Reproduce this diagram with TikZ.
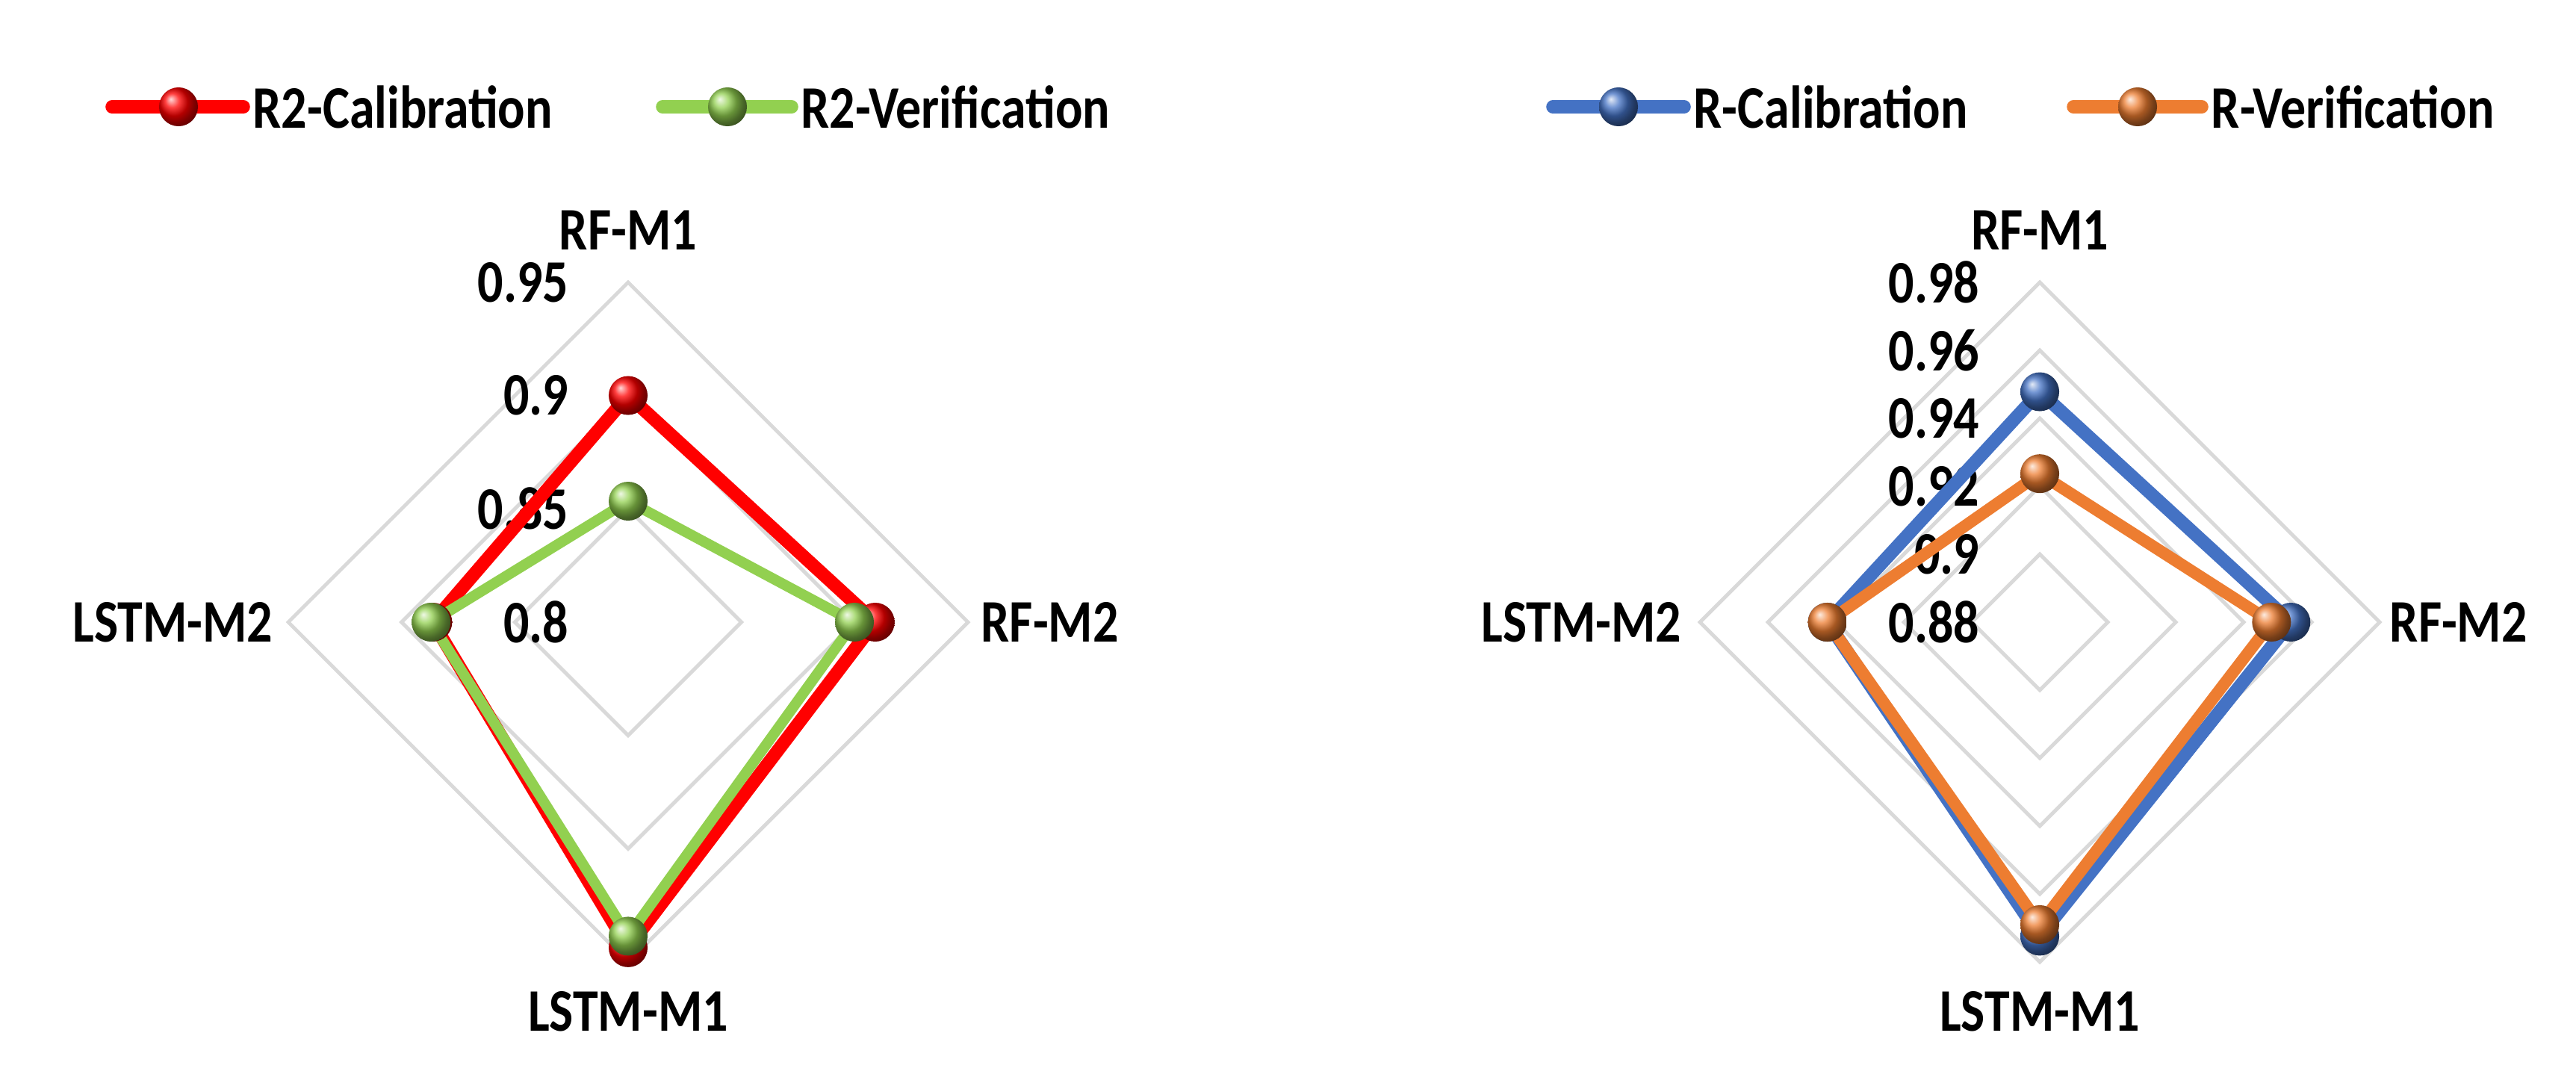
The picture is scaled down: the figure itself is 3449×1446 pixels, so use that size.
\documentclass[tikz,border=0pt]{standalone}
\usepackage{fontspec}
\setmainfont{Carlito}[FakeStretch=0.84]
\begin{document}
\definecolor{cRed}{HTML}{FF0000}
\definecolor{cGreen}{HTML}{92D050}
\definecolor{cBlue}{HTML}{4472C4}
\definecolor{cOrange}{HTML}{ED7D31}
\definecolor{cGrid}{HTML}{D9D9D9}
\begin{tikzpicture}[x=0.01cm,y=-0.01cm,
  lbl/.style={font=\bfseries\fontsize{23}{27}\selectfont,inner sep=0pt},
  leg/.style={font=\bfseries\fontsize{23}{27}\selectfont,inner sep=0pt,anchor=west},
  grid/.style={draw=cGrid,line width=1.4pt,line join=miter},
  ser/.style={line width=#1,line join=round,line cap=round},
  ball/.style={circle,minimum size=0.52cm,inner sep=0pt,shading=ball,ball color=#1}]
\useasboundingbox (0,0) rectangle (3449,1446);
\def\R{455}
% ---------- left chart ----------
\foreach \k in {1,2,3}{
  \draw[grid] (841,{833-\k*\R/3}) -- ({841+\k*\R/3},833) -- (841,{833+\k*\R/3}) -- ({841-\k*\R/3},833) -- cycle;}
\foreach \v/\k in {0.8/0,0.85/1,0.9/2,0.95/3}
  \node[lbl,anchor=east] (lt\k) at (762,{833-\k*\R/3}) {\v};
\node[lbl] (l1) at (841,308) {RF-M1};
\node[lbl,anchor=west] (l2) at (1313,833) {RF-M2};
\node[lbl] (l3) at (841,1354) {LSTM-M1};
\node[lbl,anchor=east] (l4) at (366,833) {LSTM-M2};
% red
\coordinate (ra) at (841,{833-0.667*\R});
\coordinate (rb) at ({841+0.727*\R},833);
\coordinate (rc) at (841,{833+0.958*\R});
\coordinate (rd) at ({841-0.575*\R},833);
\draw[ser=5pt,cRed] (ra) -- (rb) -- (rc) -- (rd) -- cycle;
% green
\coordinate (ga) at (841,{833-0.356*\R});
\coordinate (gb) at ({841+0.666*\R},833);
\coordinate (gc) at (841,{833+0.924*\R});
\coordinate (gd) at ({841-0.58*\R},833);
\draw[ser=4pt,cGreen] (ga) -- (gb) -- (gc) -- (gd) -- cycle;
\foreach \p in {ra,rb,rc,rd} \node[ball=cRed] (m\p) at (\p) {};
\foreach \p in {ga,gb,gc,gd} \node[ball=cGreen] (m\p) at (\p) {};
% ---------- right chart ----------
\foreach \k in {1,...,5}{
  \draw[grid] (2731,{833-\k*\R/5}) -- ({2731+\k*\R/5},833) -- (2731,{833+\k*\R/5}) -- ({2731-\k*\R/5},833) -- cycle;}
\foreach \v/\k in {0.88/0,0.9/1,0.92/2,0.94/3,0.96/4,0.98/5}
  \node[lbl,anchor=east] (rt\k) at (2651,{833-\k*\R/5}) {\v};
\node[lbl] (r1) at (2731,308) {RF-M1};
\node[lbl,anchor=west] (r2) at (3199,833) {RF-M2};
\node[lbl] (r3) at (2731,1354) {LSTM-M1};
\node[lbl,anchor=east] (r4) at (2252,833) {LSTM-M2};
% blue
\coordinate (ba) at (2731,{833-0.678*\R});
\coordinate (bb) at ({2731+0.739*\R},833);
\coordinate (bc) at (2731,{833+0.924*\R});
\coordinate (bd) at ({2731-0.625*\R},833);
\draw[ser=5pt,cBlue] (ba) -- (bb) -- (bc) -- (bd) -- cycle;
% orange
\coordinate (oa) at (2731,{833-0.437*\R});
\coordinate (ob) at ({2731+0.682*\R},833);
\coordinate (oc) at (2731,{833+0.89*\R});
\coordinate (od) at ({2731-0.625*\R},833);
\draw[ser=4.5pt,cOrange] (oa) -- (ob) -- (oc) -- (od) -- cycle;
\foreach \p in {ba,bb,bc,bd} \node[ball=cBlue] (m\p) at (\p) {};
\foreach \p in {oa,ob,oc,od} \node[ball=cOrange] (m\p) at (\p) {};
% ---------- legends ----------
\foreach \n/\xa/\xb/\xm/\c/\t in {L1/150/326/239/cRed/R2-Calibration,L2/887/1060/974/cGreen/R2-Verification,L3/2079/2255/2167/cBlue/R-Calibration,L4/2776/2948/2862/cOrange/R-Verification}{
  \coordinate (\n a) at (\xa,143);
  \coordinate (\n b) at (\xb,143);
  \draw[line width=5pt,line cap=round,\c] (\n a) -- (\n b);
  \node[ball=\c] (\n m) at (\xm,143) {};
  \node[leg] (\n t) at ({\xb+12},143) {\t};
}
\end{tikzpicture}
\end{document}
